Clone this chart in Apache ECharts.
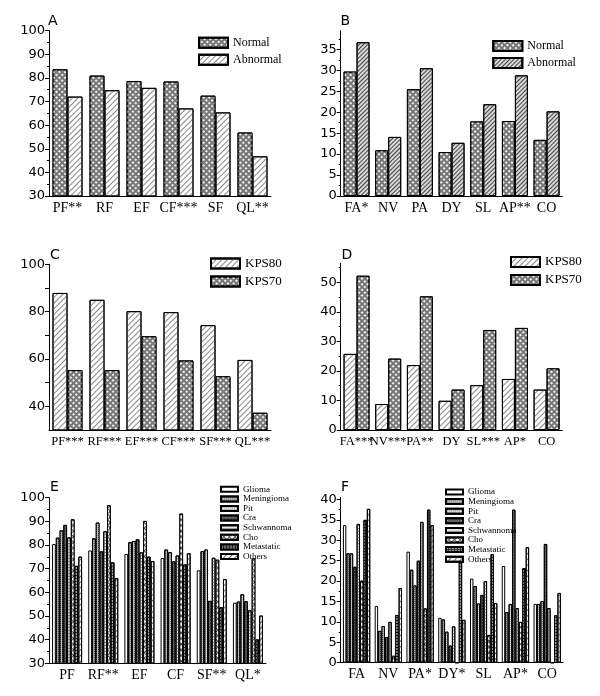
<!DOCTYPE html>
<html><head><meta charset="utf-8">
<script src="https://cdn.jsdelivr.net/npm/echarts@6/dist/echarts.min.js"></script>
<style>
html,body{margin:0;padding:0;background:#fff}
#wrap{position:relative;width:600px;height:696px;background:#fff}
.p{position:absolute;left:0;top:0;width:600px;height:696px}
</style>
</head><body>
<div id="wrap">
<div class="p" id="cA"></div><div class="p" id="cB"></div>
<div class="p" id="cC"></div><div class="p" id="cD"></div>
<div class="p" id="cE"></div><div class="p" id="cF"></div>
</div>
<script>
// ---------- DATA ----------
const catsA = ['PF**','RF','EF','CF***','SF','QL**'];
const normalA = [83.7, 81.0, 78.7, 78.5, 72.5, 56.9];
const abnormalA = [72.1, 74.8, 75.8, 67.1, 65.4, 46.8];
const ticksA = [30,40,50,60,70,80,90,100];

const catsB = ['FA*','NV','PA','DY','SL','AP**','CO'];
const normalB = [29.7, 10.9, 25.5, 10.5, 17.8, 17.9, 13.4];
const abnormalB = [36.7, 14.1, 30.5, 12.7, 21.9, 28.8, 20.2];
const ticksB = [0,5,10,15,20,25,30,35];

const catsC = ['PF***','RF***','EF***','CF***','SF***','QL***'];
const kps80C = [87.9, 85.0, 80.2, 79.8, 74.3, 59.6];
const kps70C = [55.3, 55.3, 69.6, 59.4, 52.7, 37.3];
const ticksC = [40,60,80,100];

const catsD = ['FA***','NV***','PA**','DY','SL***','AP*','CO'];
const kps80D = [25.8, 8.8, 22.0, 9.9, 15.2, 17.3, 13.7];
const kps70D = [52.3, 24.2, 45.3, 13.7, 33.9, 34.6, 20.9];
const ticksD = [0,10,20,30,40,50];

const typeNames = ['Glioma','Meningioma','Pit','Cra','Schwannoma','Cho','Metastatic','Others'];

const catsE = ['PF','RF**','EF','CF','SF**','QL*'];
const gliomaE     = [80.4, 77.7, 76.2, 74.5, 69.3, 55.6];
const meningiomaE = [83.1, 82.8, 81.2, 78.1, 77.4, 56.1];
const pitE        = [86.2, 89.5, 81.7, 77.0, 78.1, 59.2];
const craE        = [88.5, 77.3, 82.4, 73.1, 56.4, 56.2];
const schwannomaE = [83.2, 85.8, 76.9, 75.6, 74.6, 52.4];
const choE        = [90.9, 96.8, 90.2, 93.3, 73.8, 74.3];
const metastaticE = [71.2, 72.7, 75.1, 71.8, 53.7, 40.1];
const othersE     = [75.1, 66.0, 73.2, 76.5, 65.6, 50.2];
const ticksE = [30,40,50,60,70,80,90,100];

const catsF = ['FA','NV','PA*','DY*','SL','AP*','CO'];
const gliomaF     = [33.7, 13.9, 27.2, 11.0, 20.6, 23.7, 14.4];
const meningiomaF = [26.8, 7.8, 22.8, 10.6, 18.8, 12.4, 14.4];
const pitF        = [26.8, 9.0, 18.9, 7.6, 14.5, 14.4, 15.1];
const craF        = [23.5, 6.3, 25.0, 4.2, 16.6, 37.5, 29.1];
const schwannomaF = [34.0, 10.0, 34.5, 8.9, 20.0, 13.4, 13.4];
const choF        = [20.1, 1.7, 13.3, 0, 6.8, 10.0, 0];
const metastaticF = [35.0, 11.7, 37.5, 25.0, 26.6, 23.2, 11.6];
const othersF     = [37.7, 18.3, 33.7, 10.5, 14.6, 28.3, 17.1];
const ticksF = [0,5,10,15,20,25,30,35,40];

// ---------- STYLES ----------
const SERIF = 'Liberation Serif';
const SANS = 'DejaVu Sans';
const ST = {
  cross:      {bg:'#777777', decal:{symbol:'rect', symbolSize:1, dashArrayX:[2,1.3], dashArrayY:[2,1.3], rotation:Math.PI/4, color:'#f2f2f2'}},
  hatchLight: {bg:'#ffffff', decal:{symbol:'rect', symbolSize:1, dashArrayX:[1,0], dashArrayY:[1,2.5], rotation:-Math.PI/4, color:'#888'}},
  hatchDark:  {bg:'#d8d8d8', decal:{symbol:'rect', symbolSize:1, dashArrayX:[1,0], dashArrayY:[1,2], rotation:-Math.PI/4, color:'#444'}},
  glioma:     {bg:'#ffffff', decal:null},
  meningioma: {bg:'#9a9a9a', decal:{symbol:'rect', symbolSize:1, dashArrayX:[1,1], dashArrayY:[1,1], rotation:0, color:'#cfcfcf'}},
  pit:        {bg:'#bdbdbd', decal:{symbol:'rect', symbolSize:1, dashArrayX:[1,1], dashArrayY:[1,1], rotation:0, color:'#f0f0f0'}},
  cra:        {bg:'#4a4a4a', decal:{symbol:'rect', symbolSize:1, dashArrayX:[1,1], dashArrayY:[1,1], rotation:Math.PI/4, color:'#9a9a9a'}},
  schwannoma: {bg:'#e6e6e6', decal:{symbol:'rect', symbolSize:1, dashArrayX:[1,0], dashArrayY:[1,1.5], rotation:0, color:'#8a8a8a'}},
  cho:        {bg:'#5a5a5a', decal:{symbol:'rect', symbolSize:1, dashArrayX:[2.5,1], dashArrayY:[2.5,1], rotation:Math.PI/4, color:'#ffffff'}},
  metastatic: {bg:'#2e2e2e', decal:{symbol:'rect', symbolSize:1, dashArrayX:[1.5,1], dashArrayY:[1.5,1], rotation:0, color:'#a0a0a0'}},
  others:     {bg:'#ffffff', decal:{symbol:'rect', symbolSize:1, dashArrayX:[1,0], dashArrayY:[1,2.5], rotation:-Math.PI/4, color:'#666'}}
};
const typeStyles = ['glioma','meningioma','pit','cra','schwannoma','cho','metastatic','others'];

function makePanel(id, o) {
  const chart = echarts.init(document.getElementById(id), null, {renderer:'canvas', width:600, height:696});
  const series = o.series.map(s => {
    const st = ST[s.style];
    const it = {color: st.bg, borderColor:'#000', borderWidth:1};
    if (st.decal) it.decal = st.decal;
    return {type:'bar', name:s.name, data:s.data, barGap:'0%', barCategoryGap:o.gap,
            itemStyle: it, emphasis:{disabled:true}};
  });
  chart.setOption({
    animation:false,
    backgroundColor:'transparent',
    grid:{left:o.left, top:o.top, width:o.width, height:o.height, containLabel:false},
    xAxis:{type:'category', data:o.cats,
      axisLine:{lineStyle:{color:'#000', width:1}},
      axisTick:{show:false},
      axisLabel:{interval:0, fontFamily:SERIF, fontSize:o.xFont || 14, color:'#000', margin:5}},
    yAxis:{type:'value', min:o.min, max:o.max, interval:o.interval,
      axisLine:{show:true, lineStyle:{color:'#000', width:1}},
      axisTick:{show:true, length:4, customValues:o.ticks, lineStyle:{color:'#000'}},
      minorTick:{show:o.minor !== false, splitNumber:2, length:2, lineStyle:{color:'#000'}},
      splitLine:{show:false},
      axisLabel:{customValues:o.labels, fontFamily:SANS, fontSize:13, color:'#000', margin:4}},
    legend:Object.assign({orient:'vertical', icon:'rect', selectedMode:false, data:o.series.map(s=>s.name)}, o.legend),
    graphic:[{type:'text', x:o.letter[1], y:o.letter[2],
      style:{text:o.letter[0], fontFamily:SANS, fontSize:14, fill:'#000', textVerticalAlign:'middle'}}],
    series: series
  });
}

const legend2 = (left, top, font, size) => ({left:left, top:top, itemWidth:29, itemHeight:10, itemGap:5,
  textStyle:{fontFamily:font, fontSize:size, color:'#000', lineHeight:10}});
const legend8 = (left, top) => ({left:left, top:top, itemWidth:17, itemHeight:5, itemGap:0.6,
  textStyle:{fontFamily:SERIF, fontSize:9, color:'#000', lineHeight:9}});

makePanel('cA', {left:49, top:30.7, width:222, height:165.3, min:30, max:100, interval:10,
  cats:catsA, ticks:ticksA, labels:ticksA, gap:'19%', letter:['A',48,21],
  legend:legend2(193, 31.7, SERIF, 12),
  series:[{name:'Normal', data:normalA, style:'cross'}, {name:'Abnormal', data:abnormalA, style:'hatchLight'}]});

makePanel('cB', {left:340.7, top:30.7, width:221.7, height:165.3, min:0, max:39.45, interval:5,
  cats:catsB, ticks:ticksB, labels:ticksB, gap:'18%', letter:['B',340.5,21],
  legend:legend2(487.3, 35, SERIF, 12),
  series:[{name:'Normal', data:normalB, style:'cross'}, {name:'Abnormal', data:abnormalB, style:'hatchDark'}]});

makePanel('cC', {left:49, top:264.3, width:222, height:165.7, min:30, max:100, interval:10, minor:false, xFont:12.5,
  cats:catsC, ticks:[40,50,60,70,80,90,100], labels:ticksC, gap:'19%', letter:['C',50,255.5],
  legend:legend2(205, 252, SERIF, 13),
  series:[{name:'KPS80', data:kps80C, style:'hatchLight'}, {name:'KPS70', data:kps70C, style:'cross'}]});

makePanel('cD', {left:340.7, top:263.3, width:221.7, height:166.7, min:0, max:56.5, interval:10, xFont:12.5,
  cats:catsD, ticks:ticksD, labels:ticksD, gap:'18%', letter:['D',341.5,255.5],
  legend:legend2(505, 250.5, SERIF, 13),
  series:[{name:'KPS80', data:kps80D, style:'hatchLight'}, {name:'KPS70', data:kps70D, style:'cross'}]});

const eData = [gliomaE, meningiomaE, pitE, craE, schwannomaE, choE, metastaticE, othersE];
makePanel('cE', {left:49, top:497.7, width:217, height:165.6, min:30, max:100, interval:10,
  cats:catsE, ticks:ticksE, labels:ticksE, gap:'17%', letter:['E',50,487.7],
  legend:legend8(215, 479.8),
  series:typeNames.map((n,i)=>({name:n, data:eData[i], style:typeStyles[i]}))});

const fData = [gliomaF, meningiomaF, pitF, craF, schwannomaF, choF, metastaticF, othersF];
makePanel('cF', {left:340.7, top:497.4, width:222.4, height:165.3, min:0, max:40.5, interval:5,
  cats:catsF, ticks:ticksF, labels:ticksF, gap:'14%', letter:['F',341,487.5],
  legend:legend8(440, 482.5),
  series:typeNames.map((n,i)=>({name:n, data:fData[i], style:typeStyles[i]}))});
</script>
</body></html>
